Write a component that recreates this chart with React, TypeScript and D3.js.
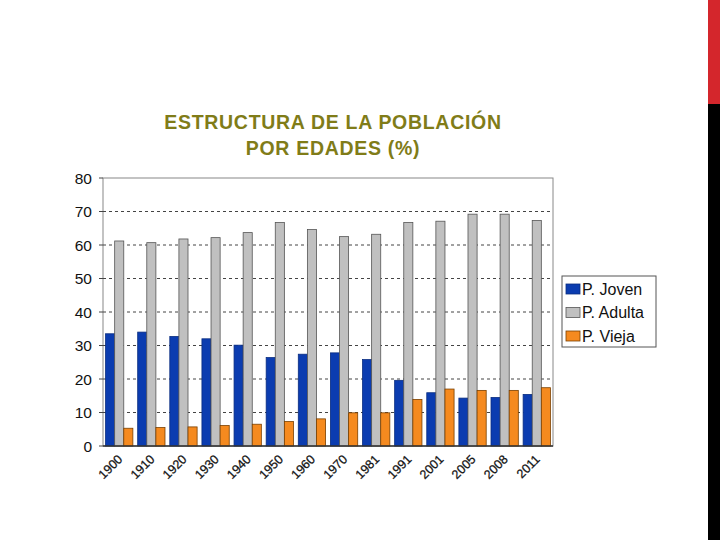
import React from 'react';
import { scaleBand, scaleLinear } from 'd3';

const years = ['1900', '1910', '1920', '1930', '1940', '1950', '1960', '1970', '1981', '1991', '2001', '2005', '2008', '2011'];
const joven = [33.5, 34, 32.7, 32, 30.1, 26.4, 27.4, 27.8, 25.8, 19.6, 15.9, 14.3, 14.5, 15.4];
const adulta = [61.2, 60.7, 61.8, 62.2, 63.7, 66.7, 64.6, 62.5, 63.2, 66.7, 67.1, 69.2, 69.2, 67.3];
const vieja = [5.3, 5.5, 5.7, 6.1, 6.5, 7.3, 8.1, 9.9, 9.9, 13.9, 17.0, 16.6, 16.6, 17.4];
const yTicks = [0, 10, 20, 30, 40, 50, 60, 70, 80];
const seriesNames = ['P. Joven', 'P. Adulta', 'P. Vieja'];
const seriesColors = ['#0b3cb0', '#c0c0c0', '#f58a1f'];
const seriesStrokes = ['#0a2d80', '#555555', '#7a4000'];

const W = 720;
const H = 540;
const plot = { left: 103, right: 553, top: 178, bottom: 446 };

export default function App() {
  const x = scaleBand<string>()
    .domain(years)
    .range([plot.left, plot.right])
    .paddingInner(0.15)
    .paddingOuter(0.08);
  const inner = scaleBand<number>()
    .domain([0, 1, 2])
    .range([0, x.bandwidth()]);
  const y = scaleLinear().domain([0, 80]).range([plot.bottom, plot.top]);
  const series = [joven, adulta, vieja];

  return (
    <svg width={W} height={H} style={{ position: 'absolute', left: 0, top: 0, background: '#fff' }} fontFamily="Arial, 'Liberation Sans', sans-serif">
      <rect x={708} y={0} width={12} height={104} fill="#d4262c" />
      <rect x={708} y={104} width={12} height={436} fill="#000" />

      <text x={333} y={129} textAnchor="middle" fontSize={19.5} fontWeight="bold" letterSpacing={0.7} fill="#807c18">
        ESTRUCTURA DE LA POBLACIÓN
      </text>
      <text x={333} y={155} textAnchor="middle" fontSize={19.5} fontWeight="bold" letterSpacing={0.7} fill="#807c18">
        POR EDADES (%)
      </text>

      <rect x={plot.left} y={plot.top} width={plot.right - plot.left} height={plot.bottom - plot.top} fill="#fff" stroke="#888" strokeWidth={1} />

      {yTicks.slice(1, -1).map((t) => (
        <line key={'g' + t} x1={plot.left} x2={plot.right} y1={y(t)} y2={y(t)} stroke="#444" strokeWidth={1} strokeDasharray="3,3" />
      ))}
      {yTicks.map((t) => (
        <g key={'t' + t}>
          <line x1={plot.left - 4} x2={plot.left} y1={y(t)} y2={y(t)} stroke="#444" />
          <text x={92} y={y(t)} dy="0.36em" textAnchor="end" fontSize={15.5} fill="#111">
            {t}
          </text>
        </g>
      ))}

      {years.map((yr, i) => (
        <g key={yr}>
          {series.map((s, k) => (
            <rect
              key={k}
              x={(x(yr) ?? 0) + (inner(k) ?? 0)}
              y={y(s[i])}
              width={inner.bandwidth()}
              height={plot.bottom - y(s[i])}
              fill={seriesColors[k]}
              stroke={seriesStrokes[k]}
              strokeWidth={0.8}
            />
          ))}
        </g>
      ))}

      <line x1={plot.left} x2={plot.right} y1={plot.bottom} y2={plot.bottom} stroke="#333" strokeWidth={1.5} />

      {years.map((yr) => {
        const cx = (x(yr) ?? 0) + x.bandwidth() / 2 + 4;
        return (
          <text key={'l' + yr} transform={`translate(${cx},${plot.bottom + 14}) rotate(-45)`} textAnchor="end" fontSize={12.5} fill="#111" stroke="#111" strokeWidth={0.25}>
            {yr}
          </text>
        );
      })}

      <rect x={562} y={276} width={94} height={71} fill="#fff" stroke="#555" strokeWidth={1} />
      {seriesNames.map((n, k) => (
        <g key={n}>
          <rect x={566} y={284 + k * 23.5} width={14} height={10} fill={seriesColors[k]} stroke={seriesStrokes[k]} strokeWidth={0.8} />
          <text x={582} y={289 + k * 23.5} dy="0.36em" fontSize={16} fill="#111">
            {n}
          </text>
        </g>
      ))}
    </svg>
  );
}
